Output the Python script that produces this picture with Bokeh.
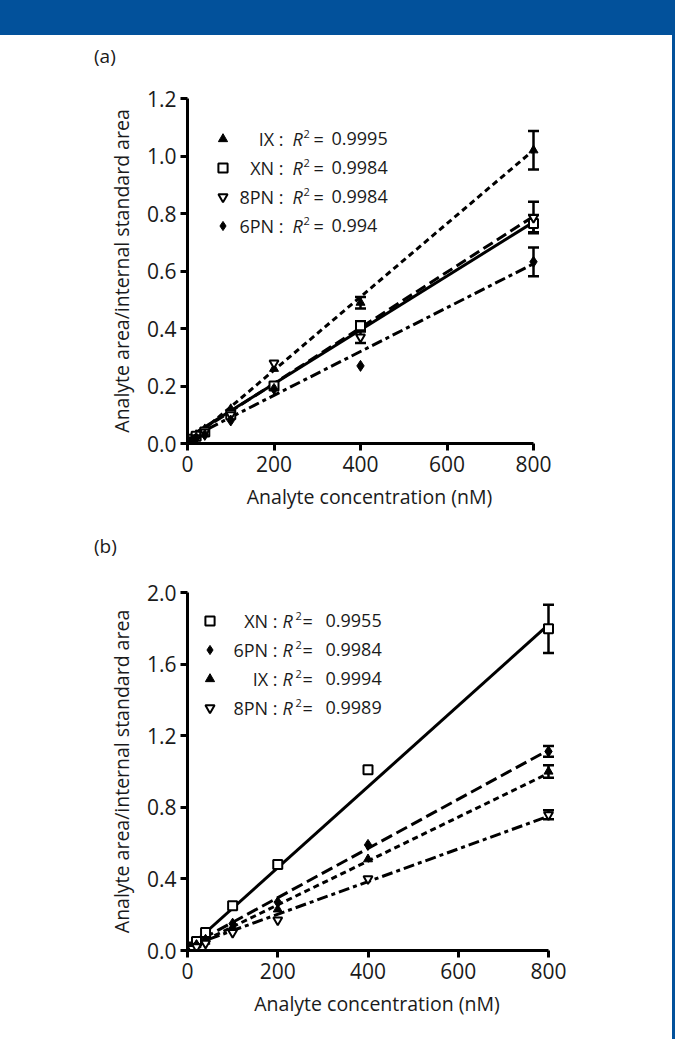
from bokeh.plotting import figure
from bokeh.models import (Range1d, FixedTicker, PrintfTickFormatter, Label, Legend,
                          LegendItem, Whisker, TeeHead, ColumnDataSource, Div)
from bokeh.layouts import column, row
from bokeh.embed import file_html
from bokeh.resources import INLINE

FONT = "Open Sans"
BLUE = "#02519b"
TXT = "#1a1a1a"

# ---------------- data ----------------
conc = [5, 10, 20, 40, 100, 200, 400, 800]
fit_x = [0, 800]

# Panel (a)
a_names = ["IX", "XN", "8PN", "6PN"]
a_r2 = ["0.9995", "0.9984", "0.9984", "0.994"]
a_IX = [0.01, 0.02, 0.03, 0.05, 0.12, 0.26, 0.49, 1.02]
a_XN = [0.01, 0.015, 0.025, 0.04, 0.10, 0.20, 0.41, 0.765]
a_8PN = [0.005, 0.01, 0.02, 0.04, 0.10, 0.28, 0.37, 0.786]
a_6PN = [0.005, 0.01, 0.02, 0.03, 0.08, 0.19, 0.27, 0.632]
a_IX_err = [0, 0, 0, 0, 0, 0, 0.02, 0.067]
a_XN_err = [0, 0, 0, 0, 0, 0, 0.015, 0.03]
a_8PN_err = [0, 0, 0, 0, 0, 0, 0.02, 0.055]
a_6PN_err = [0, 0, 0, 0, 0, 0, 0, 0.05]
a_IX_fit = [0.0, 1.02]
a_XN_fit = [0.02, 0.77]
a_8PN_fit = [0.015, 0.79]
a_6PN_fit = [0.015, 0.625]
a_yticks = [0.0, 0.2, 0.4, 0.6, 0.8, 1.0, 1.2]

# Panel (b)
b_names = ["XN", "6PN", "IX", "8PN"]
b_r2 = ["0.9955", "0.9984", "0.9994", "0.9989"]
b_XN = [0.01, 0.02, 0.05, 0.10, 0.25, 0.48, 1.01, 1.797]
b_6PN = [0.01, 0.02, 0.03, 0.06, 0.15, 0.27, 0.59, 1.112]
b_IX = [0.01, 0.02, 0.03, 0.05, 0.13, 0.23, 0.51, 1.0]
b_8PN = [0.005, 0.01, 0.02, 0.04, 0.10, 0.17, 0.40, 0.758]
b_XN_err = [0, 0, 0, 0, 0, 0, 0, 0.135]
b_6PN_err = [0, 0, 0, 0, 0, 0, 0, 0.03]
b_IX_err = [0, 0, 0, 0, 0, 0, 0, 0.035]
b_8PN_err = [0, 0, 0, 0, 0, 0, 0, 0.025]
b_XN_fit = [0.01, 1.82]
b_6PN_fit = [0.02, 1.12]
b_IX_fit = [0.01, 0.99]
b_8PN_fit = [0.02, 0.75]
b_yticks = [0.0, 0.4, 0.8, 1.2, 1.6, 2.0]

xticks = [0, 200, 400, 600, 800]

# marker styles per compound
STYLE = {
    "IX": dict(marker="triangle", fill_color="black", line_width=1, size=9),
    "XN": dict(marker="square", fill_color="white", line_width=2, size=9),
    "8PN": dict(marker="inverted_triangle", fill_color="white", line_width=2, size=9),
    "6PN": dict(marker="diamond", fill_color="black", line_width=1, size=11),
}


def make_panel(names, r2, vals, errs, fits, dashes,
               yticks, ymax, fw, fh, xend, bl, br, bt, bb, leg_loc, txt_x):
    p = figure(frame_width=fw, frame_height=fh,
               min_border_left=bl, min_border_right=br,
               min_border_top=bt, min_border_bottom=bb,
               x_range=Range1d(0, xend), y_range=Range1d(0, ymax),
               output_backend="svg", toolbar_location=None)
    p.grid.visible = False
    p.outline_line_color = None
    p.background_fill_color = "white"
    p.border_fill_color = "white"
    p.title.visible = False

    for ax in (p.xaxis[0], p.yaxis[0]):
        ax.axis_line_width = 3
        ax.major_tick_line_width = 3
        ax.major_tick_out = 7
        ax.major_tick_in = 0
        ax.minor_tick_line_color = None
        ax.major_label_text_font = FONT
        ax.major_label_text_font_size = "21px"
        ax.major_label_text_color = TXT
        ax.axis_label_text_font = FONT
        ax.axis_label_text_font_size = "19.5px"
        ax.axis_label_text_font_style = "normal"
        ax.axis_label_text_color = TXT
    p.xaxis.ticker = FixedTicker(ticks=xticks)
    p.xaxis.bounds = (0, 800)
    p.xaxis.axis_label = "Analyte concentration (nM)"
    p.xaxis.major_label_standoff = 5
    p.xaxis.axis_label_standoff = 8
    p.yaxis.ticker = FixedTicker(ticks=yticks)
    p.yaxis.formatter = PrintfTickFormatter(format="%.1f")
    p.yaxis.bounds = (0, ymax)
    p.yaxis.axis_label = "Analyte area/internal standard area"
    p.yaxis.major_label_standoff = 4
    p.yaxis.axis_label_standoff = 9

    for name in names:
        p.line(fit_x, fits[name], line_width=3, line_color="black",
               line_dash=dashes[name])
    for name in names:
        e = errs[name]
        v = vals[name]
        idx = [i for i in range(len(conc)) if e[i] > 0]
        src = ColumnDataSource(dict(base=[conc[i] for i in idx],
                                    upper=[v[i] + e[i] for i in idx],
                                    lower=[v[i] - e[i] for i in idx]))
        p.add_layout(Whisker(source=src, base="base", upper="upper", lower="lower",
                             line_width=2.5, line_color="black",
                             upper_head=TeeHead(size=11, line_width=2.5),
                             lower_head=TeeHead(size=11, line_width=2.5)))
    rends = {}
    for name in names:
        st = STYLE[name]
        rends[name] = p.scatter(conc, vals[name], line_color="black", **st)

    items = [LegendItem(label=" ", renderers=[rends[name]]) for name in names]
    leg = Legend(items=items, location=leg_loc, orientation="vertical",
                 glyph_width=23, glyph_height=23, label_height=23, label_width=0,
                 label_standoff=0, label_text_font_size="1px", spacing=6,
                 padding=0, margin=0, border_line_color=None,
                 background_fill_alpha=0)
    p.add_layout(leg)

    # legend texts
    top_y = leg_loc[1] + 4 * 23 + 3 * 6
    nx, rx, sx, qx, vx = txt_x
    for k, name in enumerate(names):
        cy = top_y - 11.5 - k * 29
        common = dict(x_units="screen", y_units="screen", text_font=FONT,
                      text_color=TXT, text_baseline="middle")
        p.add_layout(Label(x=nx, y=cy, text=name + " :", text_font_size="18px",
                           text_align="right", **common))
        p.add_layout(Label(x=rx, y=cy, text="R", text_font_size="18px",
                           text_font_style="italic", text_align="left", **common))
        p.add_layout(Label(x=sx, y=cy + 5, text="2", text_font_size="11px",
                           text_align="left", **common))
        p.add_layout(Label(x=qx, y=cy, text="=", text_font_size="18px",
                           text_align="left", **common))
        p.add_layout(Label(x=vx, y=cy, text=r2[k], text_font_size="18px",
                           text_align="left", **common))
    return p


def tag_div(text, height, pad_top):
    return Div(text=text, width=672, height=height, margin=0,
               styles={"font-family": FONT, "font-size": "19px", "color": TXT,
                       "padding-left": "94px", "padding-top": f"{pad_top}px",
                       "box-sizing": "border-box", "line-height": "26px"})


header = Div(text="", width=675, height=35, margin=0,
             styles={"background-color": BLUE})
strip = Div(text="", width=3, height=1004, margin=0,
            styles={"background-color": BLUE})

pa = make_panel(
    a_names, a_r2,
    {"IX": a_IX, "XN": a_XN, "8PN": a_8PN, "6PN": a_6PN},
    {"IX": a_IX_err, "XN": a_XN_err, "8PN": a_8PN_err, "6PN": a_6PN_err},
    {"IX": a_IX_fit, "XN": a_XN_fit, "8PN": a_8PN_fit, "6PN": a_6PN_fit},
    {"IX": "6 4", "XN": "solid", "8PN": "11 5", "6PN": "11 4 4 4"},
    a_yticks, 1.2,
    fw=364, fh=345, xend=364 / 0.4325, bl=187, br=121, bt=28, bb=77,
    leg_loc=(23.5, 206.5), txt_x=(96, 105, 116, 126, 144))

pb = make_panel(
    b_names, b_r2,
    {"XN": b_XN, "6PN": b_6PN, "IX": b_IX, "8PN": b_8PN},
    {"XN": b_XN_err, "6PN": b_6PN_err, "IX": b_IX_err, "8PN": b_8PN_err},
    {"XN": b_XN_fit, "6PN": b_6PN_fit, "IX": b_IX_fit, "8PN": b_8PN_fit},
    {"XN": "solid", "6PN": "12 5", "IX": "6 4", "8PN": "11 4 4 4"},
    b_yticks, 2.0,
    fw=379, fh=358, xend=379 / 0.45125, bl=185, br=108, bt=32, bb=89,
    leg_loc=(10.5, 231.5), txt_x=(90, 95, 108, 115, 138))

body = column(tag_div("(a)", 35, 8), pa, tag_div("(b)", 40, 13), pb, spacing=0)
layout = column(header, row(body, strip, spacing=0), spacing=0)

with open("out.html", "w") as f:
    f.write(file_html(layout, INLINE))
